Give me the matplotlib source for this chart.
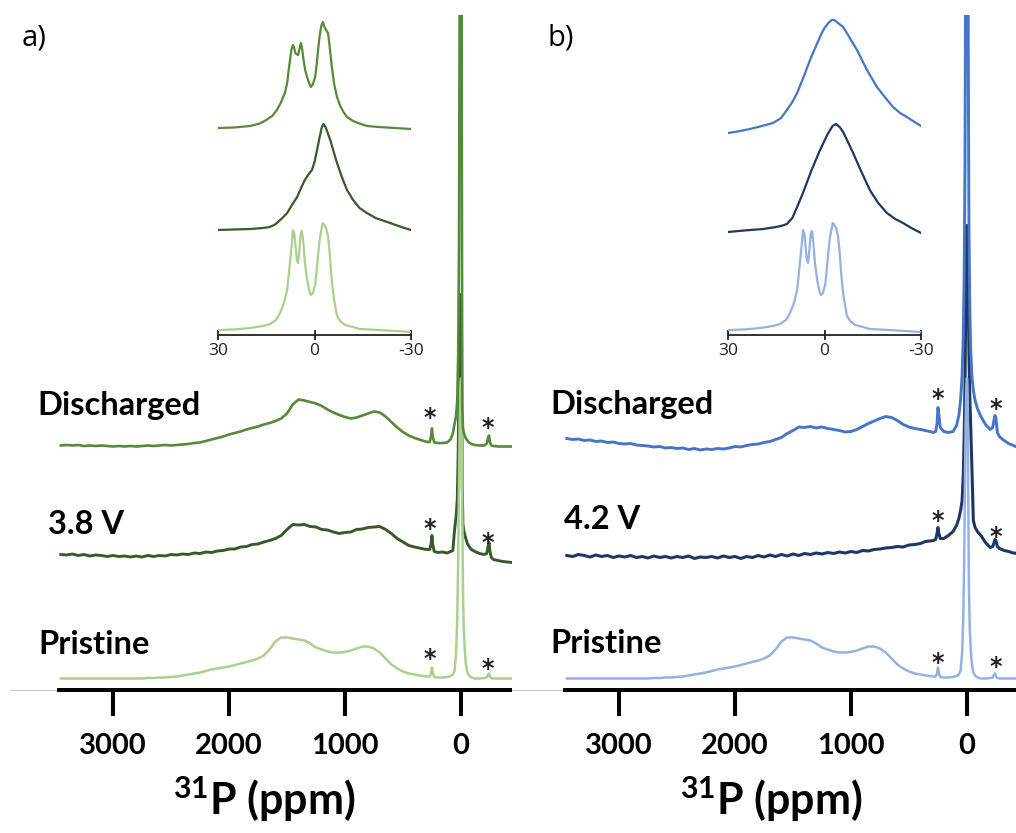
import matplotlib.pyplot as plt
from matplotlib.lines import Line2D

W, H = 1016, 833

plt.rcParams['font.family'] = ['Lato', 'DejaVu Sans']
plt.rcParams['mathtext.fontset'] = 'custom'
plt.rcParams['mathtext.rm'] = 'Lato:bold'
plt.rcParams['mathtext.default'] = 'rm'

# 31P shift (ppm) shared by the six wide-range spectra
ppm = [
    3450, 3400, 3350, 3300, 3250, 3200, 3150, 3100, 3050, 3000,
    2950, 2900, 2850, 2800, 2750, 2700, 2650, 2600, 2550, 2500,
    2450, 2400, 2350, 2300, 2250, 2200, 2150, 2100, 2050, 2000,
    1950, 1900, 1850, 1800, 1750, 1700, 1650, 1600, 1550, 1500,
    1450, 1400, 1350, 1300, 1250, 1200, 1150, 1100, 1050, 1000,
    950, 900, 850, 800, 750, 700, 650, 600, 550, 500,
    450, 400,
    360, 320, 290, 270, 258, 250, 242, 230, 200, 160,
    120, 90, 70, 55, 42, 32, 24, 17, 11, 6,
    2, 0, -2, -6, -11, -17, -24, -32, -42, -55,
    -70, -90, -120, -160, -200, -222, -234, -242, -250, -262,
    -280, -320, -360, -400, -440,
]

# intensities above each trace's own baseline (arb. units)
pristine = [
    0, 0, 0, 0, 0, 0, 0, 0, 0, 0,
    0, 0, 0, 0, 0, 0.5, 0.5, 1, 1, 1.5,
    2, 3, 4, 5, 6, 7.5, 9, 10, 11, 12,
    13.5, 15, 16.5, 18, 20, 23, 29, 37, 41, 41,
    40, 39, 38, 35, 31, 29, 27, 26, 26, 26.5,
    28, 30, 32, 32, 30, 26, 20, 14, 10, 7,
    5, 4,
    3, 2.5, 2, 2, 5, 11, 5, 1.5, 1, 1,
    1.5, 2.5, 4, 8, 25, 60, 120, 200, 260, 290,
    300, 300, 300, 280, 180, 90, 50, 30, 15, 6,
    3, 1, 0, 0, 0.5, 1, 4, 5, 2, 0.5,
    0, 0, 0, 0, 0,
]

charged_38 = [
    0, -0.5, 0.5, -1, 0, -1.5, -0.5, -1, -2, -1,
    -2, -1.5, -2.5, -1.5, -2.5, -1, -2, -1, -1.5, 0,
    -0.5, 0.5, 0, 1.5, 1, 2.5, 2, 3.5, 4, 5.5,
    5.5, 7.5, 8, 10, 10.5, 12.5, 14, 16, 19, 25,
    30, 29.5, 30, 28, 27.5, 25, 24.5, 22.5, 21, 22,
    22.5, 25, 25.5, 27, 27.5, 28, 25, 21, 16, 12.5,
    9, 7.5,
    6.5, 5.5, 5, 5, 10, 19, 9, 3, 2, 2.5,
    1.5, 3, 4, 25, 38, 55, 100, 170, 220, 250,
    260, 260, 260, 200, 70, 30, 24, 20, 16, 11,
    8, 5, 3, 1, 0, 1, 8, 12, 3, -3,
    -5, -6, -7, -7.5, -8,
]

discharged_a = [
    0, 0.5, 0, 0.5, -0.5, 0, -0.5, 0, -0.5, -1,
    -0.5, -1, -0.5, -1, -0.5, 0, -0.5, 0, 0.5, 0,
    0.5, 1, 1.5, 2.5, 3, 4.5, 6, 7.5, 9, 11,
    12.5, 14, 16, 17.5, 19, 21, 22.5, 24.5, 27, 32,
    41, 46, 45, 43.5, 42, 39.5, 36, 33, 30.5, 28.5,
    27, 28, 30, 32, 34, 33, 29, 23.5, 18, 13.5,
    10, 7.5,
    6, 4.5, 3.5, 3.5, 9, 17, 8, 3, 2.5, 2.5,
    3, 6, 12, 22, 30, 45, 90, 200, 450, 850,
    1000, 1000, 1000, 400, 40, 18, 13, 10, 7, 5,
    3, 1.5, 0.5, 0, 0, 2, 8, 10, 3, 0,
    -0.5, -1, -1, -1, -1,
]

charged_42 = [
    0, -1, 1, 0, -1.5, 0.5, -1, 0, -2, -0.5,
    -1.5, 0, -2, -1, -2.5, -0.5, -2, -1, -2.5, -1,
    -2, -0.5, -3, -1.5, -2, -1, -2.5, -0.5, -2, -1,
    -3, -1, -2, 0, -1.5, 0.5, -1, 1, -0.5, 1.5,
    0, 2, 1, 2.5, 1.5, 3, 2, 3.5, 2.5, 4,
    3, 5, 4.5, 6, 6.5, 7.5, 8, 9, 8.5, 10.5,
    11, 12,
    14, 14.5, 15, 16, 22, 28, 22, 17, 17, 20,
    24, 30, 37, 45, 55, 80, 120, 170, 250, 320,
    330, 330, 330, 320, 260, 200, 160, 130, 90, 35,
    28, 24, 20, 13, 8, 9, 13, 16, 15, 9,
    7, 5, 4, 2.5, 2,
]

discharged_b = [
    7, 6, 6.5, 5, 5.5, 4, 4.5, 3, 3.5, 2,
    1.5, 2, 0.5, 0, -0.5, -1.5, -1, -2.5, -2, -3,
    -2.5, -4, -3, -4.5, -3.5, -4, -3, -3.5, -2.5, -1,
    -1.5, 0, 1, 1.5, 3, 4, 6, 8, 12, 15,
    18.5, 18, 19, 17.5, 18.5, 17, 16, 15, 13.5, 14,
    16, 19, 22, 24.5, 27, 29, 28, 25, 21, 18.5,
    17, 16,
    15, 14, 13, 14, 22, 38, 30, 18, 14, 13,
    14, 20, 30, 45, 70, 110, 170, 280, 500, 900,
    1000, 1000, 1000, 700, 400, 220, 140, 95, 70, 55,
    45, 37, 29, 21, 16, 18, 26, 30, 27, 13,
    9, 5, 2, 0, -2,
]

# expanded view of the central line, -30..30 ppm
zoom_ppm_pristine = [30, 25, 20, 16, 13.8, 12, 10.7, 9.5, 8.5, 7.8, 7.0, 6.7, 6.3, 5.9,
                     5.5, 5.1, 4.7, 4.3, 3.9, 3.4, 3.0, 2.5, 2.0, 1.5, 1.1, 0.5, -0.2,
                     -0.7, -1.1, -1.6, -2.0, -2.6, -3.1, -3.6, -4.2, -4.7, -5.1, -5.6,
                     -6.1, -7.0, -8, -9.5, -12, -14, -20, -25, -30]
zoom_pristine = [0, 0.5, 2, 4, 6, 10, 17, 27, 40, 62, 88, 100, 97, 84,
                 70, 67, 80, 96, 99, 85, 68, 55, 45, 38, 35, 37, 45,
                 60, 75, 90, 98, 107, 105, 102, 94, 78, 60, 42,
                 30, 14, 9, 5, 3, 1, 0, -1, -2]

zoom_ppm_38 = [30, 25, 20, 16, 14, 12.5, 11.7, 10, 8.5, 7, 5.4, 4.2, 3.0, 2.0, 0.8, 0,
               -0.8, -1.6, -2.3, -2.8, -3.4, -3.9, -5, -5.8, -7, -8.5, -10.1, -12, -14,
               -16.3, -19, -23.5, -27, -30]
zoom_38 = [0, 0.5, 1, 2, 3, 5, 7, 12, 17, 25, 33, 42, 50, 55, 60, 68,
           80, 93, 103, 106, 103, 99, 89, 80, 67, 53, 40, 30, 22,
           17, 12, 7, 3, 0]

zoom_ppm_dis_a = [30, 25, 20, 17, 15, 13, 11.7, 10.5, 9.2, 8.5, 7.9, 7.2, 6.7, 6.3, 6.0,
                  5.6, 5.1, 4.6, 4.2, 3.8, 3.4, 2.9, 2.3, 1.7, 1.1, 0.5, -0.2, -0.7,
                  -1.1, -1.6, -2.1, -2.6, -3.1, -3.6, -4.2, -4.7, -5.4, -6.1, -7.0, -8,
                  -9, -10.1, -12, -14, -16.3, -20, -25, -30]
zoom_dis_a = [0, 0.5, 2, 4.5, 8, 12.5, 18, 25, 35, 45, 61, 78, 83, 80, 75,
              74, 73, 80, 85, 78, 68, 58, 51, 45, 41, 44, 51, 64,
              78, 92, 102, 106, 101, 98, 95, 82, 61, 44, 31, 22,
              16, 11, 7, 4.5, 2, 1, 0, -1]

zoom_ppm_42 = [30, 25, 19.1, 15, 13, 11.7, 10, 8.5, 6.7, 4, 1.4, -1.0, -2.5, -3.6, -4.7,
               -5.8, -7.3, -8.9, -11.5, -14.1, -16.7, -19.4, -22, -24.4, -27, -30]
zoom_42 = [-2, -0.5, 1, 3, 4.5, 6, 12, 23, 37, 60, 80, 96, 104, 106, 103,
           98, 88, 77, 58, 40, 27, 17, 11, 7, 2, -3]

zoom_ppm_dis_b = [30, 27, 23.2, 20, 16, 13.5, 11.7, 10, 8.5, 6.5, 4.5, 2.5, 1, 0, -1.2,
                  -2.2, -3.0, -3.8, -5, -5.8, -7.5, -10.1, -13.2, -16.3, -19, -21.3,
                  -23.5, -25.6, -28, -30]
zoom_dis_b = [-5, -3.5, -1, 1.5, 5, 10, 18, 26, 35, 51, 68, 83, 94, 100, 105,
              108, 108, 106, 103, 101, 92, 78, 58, 41, 30, 21,
              15, 11, 6, 2]

ppm_ticks = [3000, 2000, 1000, 0]
zoom_ticks = [30, 0, -30]

green = {'dis': '#558a38', 'mid': '#38592a', 'pri': '#a9d18e'}
blue = {'dis': '#4674c8', 'mid': '#1f3861', 'pri': '#95b1e3'}


def fig_box(left, top, right, bottom):
    return [left / W, 1 - bottom / H, (right - left) / W, (bottom - top) / H]


def fig_xy(x, y):
    return x / W, 1 - y / H


def draw_main(fig, left, traces, star_ppm, star_heights):
    ax = fig.add_axes(fig_box(left, 15, left + 455, 689.5))
    ax.patch.set_alpha(0)
    for values, offset, color, lw in traces:
        ax.plot(ppm, [v + offset for v in values], color=color, lw=lw,
                solid_joinstyle='round')
    # spinning sidebands
    for trace, heights in zip(traces, star_heights):
        offset = trace[1]
        for x, h in zip(star_ppm, heights):
            ax.text(x, offset + h - 12, '*', ha='center', va='baseline',
                    fontsize=17, fontweight='bold', family='DejaVu Sans',
                    color='#222222')
    ax.set_xlim(3483, -440)
    ax.set_ylim(0, 674.5)
    ax.set_yticks([])
    for side in ['left', 'right', 'top']:
        ax.spines[side].set_visible(False)
    ax.spines['bottom'].set_linewidth(2.9)
    ax.spines['bottom'].set_capstyle('butt')
    ax.set_xticks(ppm_ticks)
    ax.set_xticklabels([str(t) for t in ppm_ticks], fontsize=21, fontweight='bold')
    ax.tick_params(axis='x', direction='out', length=19, width=2.9, pad=12)
    return ax


def draw_zoom(fig, left, traces):
    ax = fig.add_axes(fig_box(left, 15, left + 193, 335))
    ax.patch.set_alpha(0)
    for x, values, offset, color in traces:
        ax.plot(x, [v + offset for v in values], color=color, lw=1.6,
                solid_joinstyle='round')
    ax.set_xlim(30, -30)
    ax.set_ylim(0, 320)
    ax.set_yticks([])
    for side in ['left', 'right', 'top']:
        ax.spines[side].set_visible(False)
    ax.spines['bottom'].set_linewidth(1.3)
    ax.spines['bottom'].set_color('#222222')
    ax.set_xticks(zoom_ticks)
    ax.set_xticklabels([str(t) for t in zoom_ticks], fontsize=12.5, family='Open Sans')
    ax.tick_params(axis='x', direction='inout', length=7, width=1.3, pad=2,
                   colors='#222222')
    return ax


fig = plt.figure(figsize=(W / 100, H / 100), dpi=100)

# thin grey rule behind both ppm axes
fig.add_artist(Line2D([10 / W, 1.0], [1 - 690 / H] * 2, color='#c8c8c8', lw=0.8, zorder=0))

# noisier spectra get a slightly heavier line
draw_main(fig, 57,
          [(charged_38, 135, green['mid'], 2.1),
           (pristine, 11, green['pri'], 1.8),
           (discharged_a, 244, green['dis'], 1.9)],
          [265, -228],
          [[31, 16], [25, 14], [32, 22]])
draw_main(fig, 563,
          [(charged_42, 134, blue['mid'], 2.2),
           (pristine, 11, blue['pri'], 1.8),
           (discharged_b, 244, blue['dis'], 2.1)],
          [250, -250],
          [[40, 23], [21, 17], [51, 41]])

draw_zoom(fig, 218,
          [(zoom_ppm_pristine, zoom_pristine, 5, green['pri']),
           (zoom_ppm_38, zoom_38, 105, green['mid']),
           (zoom_ppm_dis_a, zoom_dis_a, 207, green['dis'])])
draw_zoom(fig, 728,
          [(zoom_ppm_pristine, zoom_pristine, 5, blue['pri']),
           (zoom_ppm_42, zoom_42, 105, blue['mid']),
           (zoom_ppm_dis_b, zoom_dis_b, 207, blue['dis'])])

label_kw = dict(fontsize=23.5, fontweight='bold', va='baseline', ha='left')
fig.text(*fig_xy(37, 415), 'Discharged', **label_kw)
fig.text(*fig_xy(48, 534), '3.8 V', **label_kw)
fig.text(*fig_xy(38, 654), 'Pristine', **label_kw)
fig.text(*fig_xy(550, 414), 'Discharged', **label_kw)
fig.text(*fig_xy(564, 529), '4.2 V', **label_kw)
fig.text(*fig_xy(550, 653), 'Pristine', **label_kw)

fig.text(*fig_xy(22, 45), 'a)', fontsize=21, family='Open Sans', va='baseline')
fig.text(*fig_xy(547, 46), 'b)', fontsize=21, family='Open Sans', va='baseline')

fig.text(*fig_xy(264, 815), '$^{31}$P (ppm)', fontsize=31, fontweight='bold',
         ha='center', va='baseline')
fig.text(*fig_xy(771, 815), '$^{31}$P (ppm)', fontsize=31, fontweight='bold',
         ha='center', va='baseline')

fig.savefig('out.png', dpi=100)
